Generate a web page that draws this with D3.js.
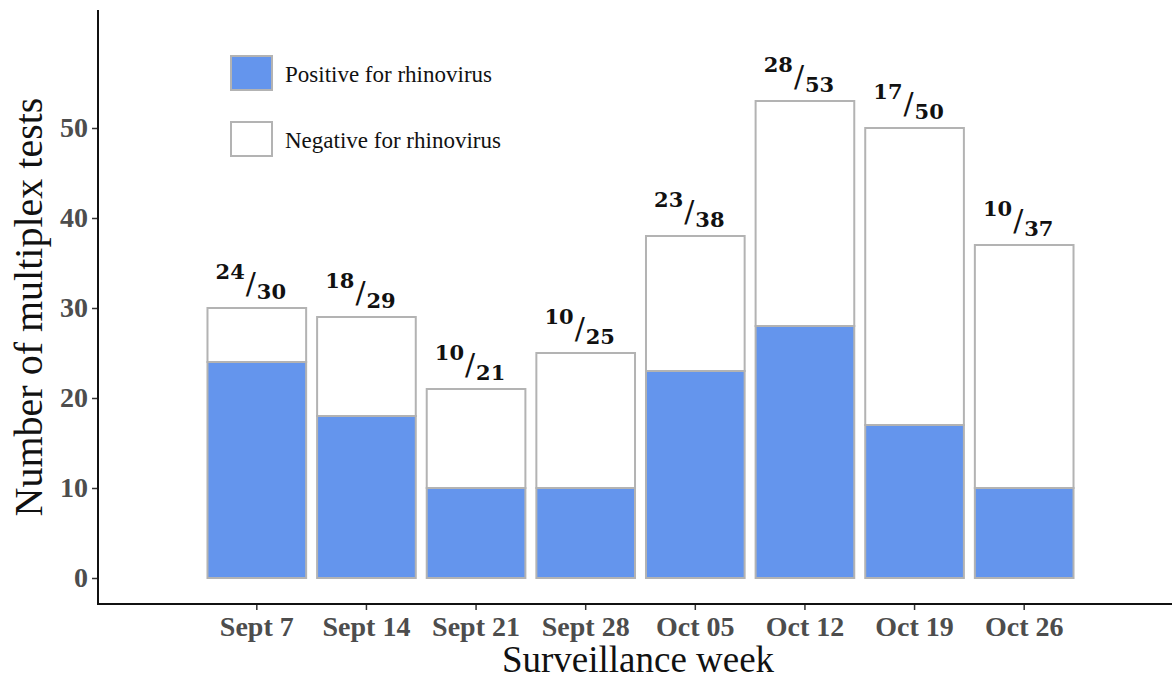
<!DOCTYPE html>
<html>
<head>
<meta charset="utf-8">
<script src="https://cdn.jsdelivr.net/npm/d3@7"></script>
<style>
  body { margin: 0; background: #fff; }
  svg { display: block; }
</style>
</head>
<body>
<script>
// weekly rhinovirus multiplex results
var weeks = ["Sept 7", "Sept 14", "Sept 21", "Sept 28", "Oct 05", "Oct 12", "Oct 19", "Oct 26"];
var positive = [24, 18, 10, 10, 23, 28, 17, 10];
var total = [30, 29, 21, 25, 38, 53, 50, 37];
var yTicks = [0, 10, 20, 30, 40, 50];

var w = 1172;
var h = 681;
var blue = "#6495ED";
var edge = "#B3B3B3";

var svg = d3.select("body")
            .append("svg")
            .attr("width", w)
            .attr("height", h);

var xScale = d3.scaleBand()
               .domain(weeks)
               .range([202, 1079])
               .paddingInner(0.1)
               .paddingOuter(0.05);

var yScale = d3.scaleLinear()
               .domain([0, 50])
               .range([578, 128]);

var rows = weeks.map(function(d, i) {
  return {week: d, pos: positive[i], tot: total[i]};
});

// negative part (top of each stack)
svg.selectAll(".neg")
   .data(rows)
   .enter()
   .append("rect")
   .attr("class", "neg")
   .attr("x", function(d) { return xScale(d.week); })
   .attr("y", function(d) { return yScale(d.tot); })
   .attr("width", xScale.bandwidth())
   .attr("height", function(d) { return yScale(d.pos) - yScale(d.tot); })
   .attr("fill", "#fff")
   .attr("stroke", edge)
   .attr("stroke-width", 2);

// positive part
svg.selectAll(".pos")
   .data(rows)
   .enter()
   .append("rect")
   .attr("class", "pos")
   .attr("x", function(d) { return xScale(d.week); })
   .attr("y", function(d) { return yScale(d.pos); })
   .attr("width", xScale.bandwidth())
   .attr("height", function(d) { return yScale(0) - yScale(d.pos); })
   .attr("fill", blue)
   .attr("stroke", edge)
   .attr("stroke-width", 2);

// fraction labels above the bars
var labs = svg.selectAll(".frac")
              .data(rows)
              .enter()
              .append("g")
              .attr("class", "frac")
              .attr("transform", function(d) {
                return "translate(" + (xScale(d.week) + xScale.bandwidth() / 2) + "," + yScale(d.tot) + ")";
              })
              .style("font-family", "'DejaVu Serif', serif")
              .style("font-weight", "bold")
              .attr("fill", "#111");

labs.append("text")
    .attr("x", -12)
    .attr("y", -29)
    .attr("text-anchor", "end")
    .style("font-size", "21px")
    .text(function(d) { return d.pos; });

labs.append("text")
    .attr("x", -6)
    .attr("y", -14)
    .attr("text-anchor", "middle")
    .style("font-size", "30px")
    .style("font-weight", "normal")
    .text("/");

labs.append("text")
    .attr("x", 0)
    .attr("y", -9)
    .attr("text-anchor", "start")
    .style("font-size", "21px")
    .text(function(d) { return d.tot; });

// axes
var yAxis = svg.append("g")
               .attr("transform", "translate(98,0)")
               .call(d3.axisLeft(yScale).tickValues(yTicks).tickSize(6).tickPadding(4));

var xAxis = svg.append("g")
               .attr("transform", "translate(0,604)")
               .call(d3.axisBottom(xScale).tickSize(6).tickPadding(4));

[yAxis, xAxis].forEach(function(ax) {
  ax.select(".domain").remove();
  ax.selectAll(".tick line").attr("stroke", "#333").attr("stroke-width", 1.5);
  ax.selectAll(".tick text")
    .attr("fill", "#4D4D4D")
    .style("font-family", "'Liberation Serif', 'Times New Roman', serif")
    .style("font-weight", "bold")
    .style("font-size", "28px");
});
xAxis.selectAll(".tick text").attr("dy", "0.78em");

svg.append("line")
   .attr("x1", 98).attr("x2", 98)
   .attr("y1", 10).attr("y2", 605)
   .attr("stroke", "#111").attr("stroke-width", 2);

svg.append("line")
   .attr("x1", 97).attr("x2", w)
   .attr("y1", 604).attr("y2", 604)
   .attr("stroke", "#111").attr("stroke-width", 2);

// axis titles
svg.append("text")
   .attr("x", 638)
   .attr("y", 672)
   .attr("text-anchor", "middle")
   .style("font-family", "'Liberation Serif', 'Times New Roman', serif")
   .style("font-size", "37px")
   .attr("fill", "#111")
   .text("Surveillance week");

svg.append("text")
   .attr("transform", "translate(42,307) rotate(-90)")
   .attr("text-anchor", "middle")
   .style("font-family", "'Liberation Serif', 'Times New Roman', serif")
   .style("font-size", "40px")
   .attr("fill", "#111")
   .text("Number of multiplex tests");

// legend
var legendItems = [
  {label: "Positive for rhinovirus", fill: blue},
  {label: "Negative for rhinovirus", fill: "#fff"}
];

var legend = svg.append("g")
                .attr("transform", "translate(230,55)");

var items = legend.selectAll("g")
                  .data(legendItems)
                  .enter()
                  .append("g")
                  .attr("transform", function(d, i) { return "translate(0," + (i * 66) + ")"; });

items.append("rect")
     .attr("x", 1)
     .attr("y", 1)
     .attr("width", 41)
     .attr("height", 34)
     .attr("fill", function(d) { return d.fill; })
     .attr("stroke", edge)
     .attr("stroke-width", 2);

items.append("text")
     .attr("x", 55)
     .attr("y", 27)
     .style("font-family", "'Liberation Serif', 'Times New Roman', serif")
     .style("font-size", "23px")
     .attr("fill", "#111")
     .text(function(d) { return d.label; });
</script>
</body>
</html>
